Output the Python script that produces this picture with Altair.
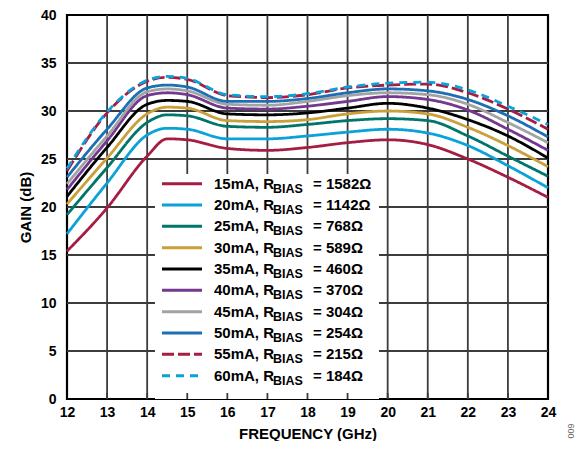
import altair as alt
import pandas as pd

freq = [12, 13, 14, 14.5, 15, 16, 17, 18, 19, 20, 21, 22, 23, 24]
currents = ["15mA", "20mA", "25mA", "30mA", "35mA", "40mA", "45mA", "50mA", "55mA", "60mA"]
rbias = ["1582Ω", "1142Ω", "768Ω", "589Ω", "460Ω", "370Ω", "304Ω", "254Ω", "215Ω", "184Ω"]

gain_15 = [15.4, 19.9, 25.3, 27.1, 27.0, 26.1, 25.9, 26.2, 26.7, 27.0, 26.5, 25.0, 23.1, 21.0]
gain_20 = [17.2, 22.5, 27.5, 28.2, 28.1, 27.1, 27.1, 27.4, 27.8, 28.1, 27.7, 26.4, 24.3, 22.0]
gain_25 = [19.2, 24.1, 28.8, 29.6, 29.5, 28.4, 28.3, 28.6, 29.0, 29.2, 29.0, 27.4, 25.3, 23.2]
gain_30 = [20.3, 25.1, 29.7, 30.4, 30.3, 29.0, 28.9, 29.1, 29.7, 30.0, 29.7, 28.3, 26.4, 24.2]
gain_35 = [21.1, 26.2, 30.7, 31.1, 31.0, 29.7, 29.6, 29.8, 30.3, 30.8, 30.3, 29.1, 27.4, 25.1]
gain_40 = [21.8, 26.9, 31.6, 31.9, 31.7, 30.3, 30.2, 30.5, 31.0, 31.5, 31.2, 30.1, 28.1, 25.9]
gain_45 = [22.4, 27.4, 32.0, 32.3, 32.1, 30.7, 30.6, 31.0, 31.6, 31.9, 31.7, 30.7, 28.8, 26.7]
gain_50 = [23.1, 28.1, 32.4, 32.7, 32.5, 31.0, 31.0, 31.3, 31.9, 32.3, 32.1, 31.2, 29.5, 27.3]
gain_55 = [23.75, 29.8, 33.1, 33.5, 33.3, 31.6, 31.4, 31.7, 32.4, 32.7, 32.8, 31.9, 30.2, 28.1]
gain_60 = [24.0, 29.9, 33.2, 33.6, 33.4, 31.7, 31.5, 31.8, 32.5, 32.9, 33.0, 32.2, 30.5, 28.6]
gains = [gain_15, gain_20, gain_25, gain_30, gain_35, gain_40, gain_45, gain_50, gain_55, gain_60]

colors = ["#A51D42", "#0AA2D8", "#00766A", "#C9A03A", "#000000",
          "#74388F", "#A3A3A3", "#1C6FB5", "#A51D42", "#0AA2D8"]
dashes = [[1, 0]] * 8 + [[12, 4], [8, 6]]

x_ticks = list(range(12, 25))
y_ticks = list(range(0, 41, 5))

rows = []
for c, g in zip(currents, gains):
    for f, v in zip(freq, g):
        rows.append({"freq": f, "gain": v, "series": c})
df = pd.DataFrame(rows)

leg = pd.DataFrame({
    "series": currents,
    "p1": [c + ", R" for c in currents],
    "p2": ["BIAS"] * len(currents),
    "p3": ["= " + r for r in rbias],
})

W, H = 481, 384
FONT = "Liberation Sans"
GRID = "#3c3c3c"
xs = alt.Scale(domain=[12, 24], nice=False, zero=False)
ys = alt.Scale(domain=[0, 40], nice=False)
cscale = alt.Scale(domain=currents, range=colors)
dscale = alt.Scale(domain=currents, range=dashes)

x_axis = alt.Axis(
    values=x_ticks, title="FREQUENCY (GHz)", grid=False, ticks=False, domain=False,
    labelFont=FONT, labelFontSize=14, labelFontWeight="bold", labelColor="black",
    labelPadding=6, titleFont=FONT, titleFontSize=15, titleFontWeight="bold",
    titleColor="black", titlePadding=7, labelFlush=False)
y_axis = alt.Axis(
    values=y_ticks, title="GAIN (dB)", grid=False, ticks=False, domain=False,
    labelFont=FONT, labelFontSize=14, labelFontWeight="bold", labelColor="black",
    labelPadding=11, titleFont=FONT, titleFontSize=15, titleFontWeight="bold",
    titleColor="black", titlePadding=7, labelFlush=False)

vgrid = alt.Chart(pd.DataFrame({"f": x_ticks[1:-1]})).mark_rule(
    color=GRID, strokeWidth=1.8).encode(x=alt.X("f:Q", scale=xs, axis=x_axis))
hgrid = alt.Chart(pd.DataFrame({"g": y_ticks[1:-1]})).mark_rule(
    color=GRID, strokeWidth=1.8).encode(y=alt.Y("g:Q", scale=ys, axis=y_axis))

box = alt.Chart(pd.DataFrame({"a": [0]})).mark_rect(color="white").encode(
    x=alt.value(88), x2=alt.value(312), y=alt.value(159), y2=alt.value(H))

inticks = alt.Chart(pd.DataFrame({"f": x_ticks[1:-1]})).mark_rule(
    color=GRID, strokeWidth=1.8).encode(
    x=alt.X("f:Q", scale=xs, axis=x_axis), y=alt.value(H - 6), y2=alt.value(H))

lines = alt.Chart(df).mark_line(strokeWidth=2.8, interpolate="monotone").encode(
    x=alt.X("freq:Q", scale=xs, axis=x_axis),
    y=alt.Y("gain:Q", scale=ys, axis=y_axis),
    color=alt.Color("series:N", scale=cscale, legend=None),
    strokeDash=alt.StrokeDash("series:N", scale=dscale, legend=None),
    detail="series:N",
)

figno = alt.Chart(pd.DataFrame({"t": ["009"]})).mark_text(
    angle=270, fontSize=9, font=FONT, color="#666666").encode(
    text="t:N", x=alt.value(504), y=alt.value(416))

main = alt.layer(vgrid, hgrid, box, inticks, lines, figno)

ly = alt.Y("series:N", scale=alt.Scale(type="point", domain=currents,
                                        range=[168.7, 360.7], padding=0), axis=None)
leg_sym = alt.Chart(leg).mark_rule(strokeWidth=3).encode(
    y=ly, x=alt.value(95), x2=alt.value(135),
    color=alt.Color("series:N", scale=cscale, legend=None),
    strokeDash=alt.StrokeDash("series:N", scale=dscale, legend=None))
leg_t1 = alt.Chart(leg).mark_text(align="left", baseline="middle", font=FONT,
                                  fontSize=15, fontWeight="bold", color="black").encode(
    y=ly, x=alt.value(147), text="p1:N")
leg_t2 = alt.Chart(leg).mark_text(align="left", baseline="middle", font=FONT,
                                  fontSize=12.5, fontWeight="bold", color="black", dy=5).encode(
    y=ly, x=alt.value(206), text="p2:N")
leg_t3 = alt.Chart(leg).mark_text(align="left", baseline="middle", font=FONT,
                                  fontSize=15, fontWeight="bold", color="black").encode(
    y=ly, x=alt.value(246), text="p3:N")
legend = alt.layer(leg_sym, leg_t1, leg_t2, leg_t3)

chart = alt.layer(main, legend).resolve_scale(y="independent").properties(
    width=W, height=H, background="white",
    padding={"left": 10, "top": 0, "right": 0, "bottom": 0},
).configure_view(stroke="black", strokeWidth=2.2)

chart.save("out.html", embed_options={"renderer": "svg", "actions": False})
